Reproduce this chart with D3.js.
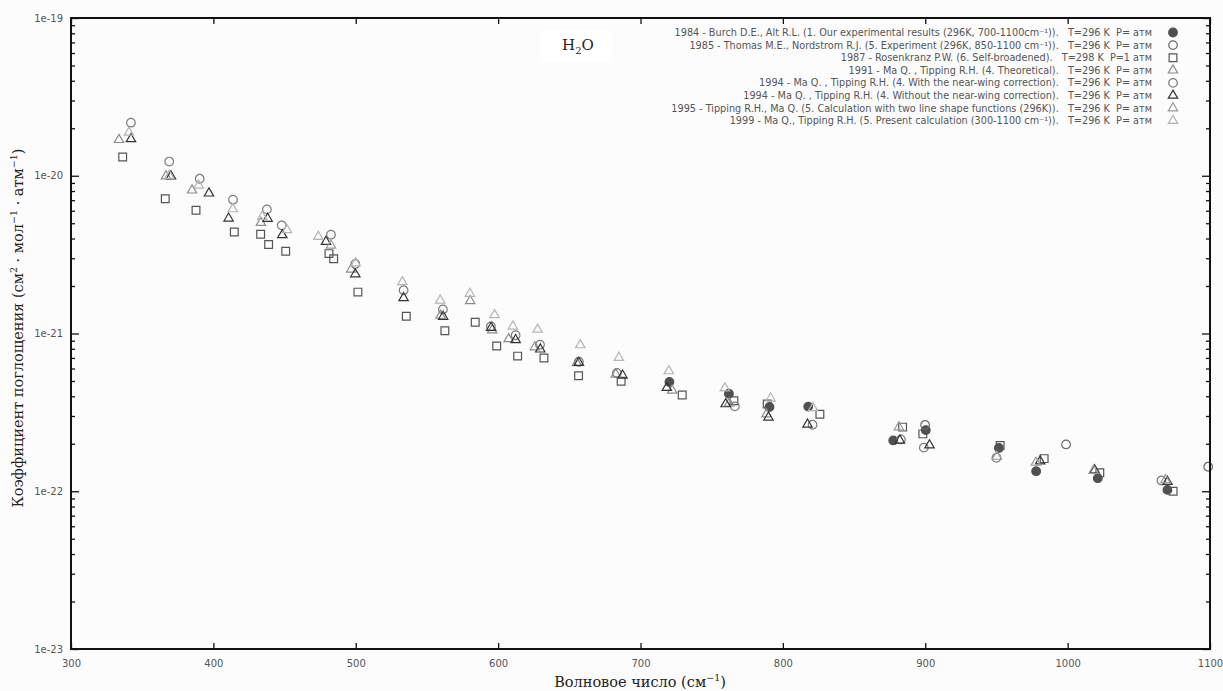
<!DOCTYPE html>
<html>
<head>
<meta charset="utf-8">
<script src="https://cdn.jsdelivr.net/npm/d3@7"></script>
<style>
  body{margin:0;background:#fcfcfc;}
  svg{display:block;}
  .tick-label{font-family:"DejaVu Sans",sans-serif;font-size:10px;fill:#555;}
  .legend-text{font-family:"DejaVu Sans",sans-serif;font-size:9.7px;fill:#555;white-space:pre;}
  .axis-title{font-family:"DejaVu Serif",serif;font-size:14.5px;fill:#222;}
</style>
</head>
<body>
<div id="chart"></div>
<script>
// wavenumber (cm^-1) and absorption coefficient values
const burchX=[720.3,762.1,790.6,817.8,877.5,900.4,951.7,977.9,1021.2,1070.1];
const burchY=[4.93e-22,4.15e-22,3.42e-22,3.44e-22,2.10e-22,2.44e-22,1.88e-22,1.34e-22,1.21e-22,1.02e-22];

const thomasX=[899.9,998.9,1098.7];
const thomasY=[2.63e-22,1.98e-22,1.43e-22];

const rosenX=[336.3,366.2,387.8,414.7,433.2,438.8,450.8,481.2,484.5,501.5,535.5,562.6,583.9,599.0,613.7,632.2,656.5,686.4,729.3,765.6,789.0,826.0,884.1,898.3,952.6,983.5,1022.6,1074.1];
const rosenY=[1.315e-20,7.14e-21,6.04e-21,4.40e-21,4.26e-21,3.67e-21,3.32e-21,3.21e-21,2.98e-21,1.83e-21,1.285e-21,1.04e-21,1.18e-21,8.34e-22,7.19e-22,7.00e-22,5.40e-22,4.98e-22,4.07e-22,3.75e-22,3.57e-22,3.08e-22,2.55e-22,2.31e-22,1.95e-22,1.61e-22,1.31e-22,1.00e-22];

const ma91X=[333.7,366.7,385.0,433.4,496.8,559.6,580.4,595.8,607.4,625.8,655.3,682.7,722.3,762.3,788.5];
const ma91Y=[1.69e-20,9.93e-21,8.09e-21,5.04e-21,2.55e-21,1.30e-21,1.61e-21,1.05e-21,9.23e-22,8.20e-22,6.50e-22,5.51e-22,4.36e-22,3.61e-22,3.08e-22];

const nearX=[342.1,369.0,390.4,413.8,437.6,448.0,482.6,499.7,533.6,561.2,594.9,612.3,629.4,656.7,683.4,766.3,820.9,882.9,899.0,950.0,1065.9];
const nearY=[2.17e-20,1.23e-20,9.57e-21,7.05e-21,6.12e-21,4.85e-21,4.23e-21,2.76e-21,1.88e-21,1.42e-21,1.11e-21,9.75e-22,8.49e-22,6.62e-22,5.62e-22,3.45e-22,2.64e-22,2.13e-22,1.89e-22,1.63e-22,1.17e-22];

const withoutX=[342.1,370.2,396.9,410.7,438.1,448.4,479.1,499.7,533.6,561.4,595.1,612.3,629.6,656.7,687.4,718.5,759.8,789.9,817.3,882.2,903.0,980.7,1019.0,1070.1];
const withoutY=[1.71e-20,9.93e-21,7.74e-21,5.37e-21,5.35e-21,4.21e-21,3.82e-21,2.38e-21,1.68e-21,1.28e-21,1.09e-21,9.10e-22,7.94e-22,6.53e-22,5.43e-22,4.53e-22,3.57e-22,2.94e-22,2.65e-22,2.10e-22,1.96e-22,1.55e-22,1.36e-22,1.15e-22];

const tip95X=[482.6,881.5,950.3,977.7,1018.2,1068.7];
const tip95Y=[3.62e-21,2.55e-22,1.66e-22,1.52e-22,1.35e-22,1.18e-22];

const ma99X=[340.7,369.0,389.7,413.6,434.3,451.7,473.7,499.9,532.7,559.3,580.2,597.5,610.4,627.7,657.7,684.8,719.9,759.3,791.4,821.1];
const ma99Y=[1.88e-20,1.0e-20,8.69e-21,6.15e-21,5.50e-21,4.53e-21,4.11e-21,2.79e-21,2.12e-21,1.62e-21,1.79e-21,1.31e-21,1.11e-21,1.06e-21,8.45e-22,7.03e-22,5.78e-22,4.50e-22,3.88e-22,3.37e-22];

const seriesNames=[
  "1984 - Burch D.E., Alt R.L. (1. Our experimental results (296K, 700-1100cm\u207B\u00B9)).   T=296 K  P= атм",
  "1985 - Thomas M.E., Nordstrom R.J. (5. Experiment (296K, 850-1100 cm\u207B\u00B9)).   T=296 K  P= атм",
  "1987 - Rosenkranz P.W. (6. Self-broadened).   T=298 K  P=1 атм",
  "1991 - Ma Q. , Tipping R.H. (4. Theoretical).   T=296 K  P= атм",
  "1994 - Ma Q. , Tipping R.H. (4. With the near-wing correction).   T=296 K  P= атм",
  "1994 - Ma Q. , Tipping R.H. (4. Without the near-wing correction).   T=296 K  P= атм",
  "1995 - Tipping R.H., Ma Q. (5. Calculation with two line shape functions (296K)).   T=296 K  P= атм",
  "1999 - Ma Q., Tipping R.H. (5. Present calculation (300-1100 cm\u207B\u00B9)).   T=296 K  P= атм"
];

const xTicks=[300,400,500,600,700,800,900,1000,1100];
const yTicks=[1e-23,1e-22,1e-21,1e-20,1e-19];
const yTickLabels=["1e-23","1e-22","1e-21","1e-20","1e-19"];

const w=1223, h=691;
const padL=71, padR=1210, padT=18, padB=649;

const series=[
  {xs:burchX, ys:burchY, shape:"circle", fill:"#505050", stroke:"#505050"},
  {xs:thomasX, ys:thomasY, shape:"circle", fill:"none", stroke:"#6a6a6a"},
  {xs:rosenX, ys:rosenY, shape:"square", fill:"none", stroke:"#555"},
  {xs:ma91X, ys:ma91Y, shape:"triangle", fill:"none", stroke:"#8c8c8c"},
  {xs:nearX, ys:nearY, shape:"circle", fill:"none", stroke:"#7c7c7c"},
  {xs:withoutX, ys:withoutY, shape:"triangle", fill:"none", stroke:"#333"},
  {xs:tip95X, ys:tip95Y, shape:"triangle", fill:"none", stroke:"#999"},
  {xs:ma99X, ys:ma99Y, shape:"triangle", fill:"none", stroke:"#b4b4b4"}
];

const xScale=d3.scaleLinear().domain([300,1100]).range([padL,padR]);
const yScale=d3.scaleLog().domain([1e-23,1e-19]).range([padB,padT]);

const svg=d3.select("#chart").append("svg").attr("width",w).attr("height",h);
svg.append("rect").attr("width",w).attr("height",h).attr("fill","#fcfcfc");

const symbols={
  circle:d3.symbol().type(d3.symbolCircle).size(58),
  square:d3.symbol().type(d3.symbolSquare).size(60),
  triangle:d3.symbol().type(d3.symbolTriangle).size(38)
};

// H2O label box
const titleG=svg.append("g");
titleG.append("rect").attr("x",540).attr("y",30).attr("width",72).attr("height",32).attr("fill","#fff");
const tt=titleG.append("text").attr("class","axis-title").attr("x",578).attr("y",50).attr("text-anchor","middle").style("font-size","15px");
tt.append("tspan").text("H");
tt.append("tspan").text("2").attr("dy",4).style("font-size","10px");
tt.append("tspan").text("O").attr("dy",-4);

// points
series.forEach(s=>{
  svg.append("g").selectAll("path")
    .data(s.xs.map((x,i)=>[x,s.ys[i]]))
    .enter()
    .append("path")
    .attr("d",symbols[s.shape])
    .attr("transform",d=>`translate(${xScale(d[0])},${yScale(d[1])})`)
    .attr("fill",s.fill)
    .attr("stroke",s.stroke)
    .attr("stroke-width",1.2);
});

// axes with inward ticks, mirrored
const axisG=svg.append("g");
const xAxisB=d3.axisBottom(xScale).tickValues(xTicks).tickSize(-6).tickFormat(d3.format("d")).tickPadding(11);
axisG.append("g").attr("transform",`translate(0,${padB})`).call(xAxisB);
const xAxisT=d3.axisTop(xScale).tickValues(xTicks).tickSize(-6).tickFormat("");
axisG.append("g").attr("transform",`translate(0,${padT})`).call(xAxisT);

const minors=[];
for(let e=-23;e<-19;e++){for(let m=2;m<=9;m++){minors.push(m*Math.pow(10,e));}}
const yAxisL=d3.axisLeft(yScale).tickValues(yTicks).tickSize(-8).tickPadding(8).tickFormat((d,i)=>yTickLabels[i]);
axisG.append("g").attr("transform",`translate(${padL},0)`).call(yAxisL);
axisG.append("g").attr("transform",`translate(${padL},0)`).call(d3.axisLeft(yScale).tickValues(minors).tickSize(-4).tickFormat(""));
axisG.append("g").attr("transform",`translate(${padR},0)`).call(d3.axisRight(yScale).tickValues(yTicks).tickSize(-8).tickFormat(""));
axisG.append("g").attr("transform",`translate(${padR},0)`).call(d3.axisRight(yScale).tickValues(minors).tickSize(-4).tickFormat(""));

axisG.selectAll(".domain").remove();
axisG.selectAll(".tick line").attr("stroke","#111").attr("stroke-width",1.3);
axisG.selectAll(".tick text").attr("class","tick-label").attr("fill",null);
svg.append("rect").attr("x",padL).attr("y",padT).attr("width",padR-padL).attr("height",padB-padT)
   .attr("fill","none").attr("stroke","#111").attr("stroke-width",2);

// legend
const legend=svg.append("g");
seriesNames.forEach((name,i)=>{
  const y=32.5+i*12.6;
  legend.append("text").attr("class","legend-text").attr("x",1152).attr("y",y+3.5)
    .attr("text-anchor","end").attr("xml:space","preserve").text(name);
  const s=series[i];
  legend.append("path").attr("d",symbols[s.shape]).attr("transform",`translate(1173,${y})`)
    .attr("fill",s.fill).attr("stroke",s.stroke).attr("stroke-width",1.2);
});

// axis titles
const xt=svg.append("text").attr("class","axis-title").attr("x",640).attr("y",687).attr("text-anchor","middle");
xt.append("tspan").text("Волновое число (см");
xt.append("tspan").text("−1").attr("dy",-6).style("font-size","9.5px");
xt.append("tspan").text(")").attr("dy",6);

const yt=svg.append("text").attr("class","axis-title").attr("transform","translate(23,328) rotate(-90)").attr("text-anchor","middle");
yt.append("tspan").text("Коэффициент поглощения (см");
yt.append("tspan").text("2").attr("dy",-6).style("font-size","9.5px");
yt.append("tspan").text(" · мол").attr("dy",6);
yt.append("tspan").text("−1").attr("dy",-6).style("font-size","9.5px");
yt.append("tspan").text(" · атм").attr("dy",6);
yt.append("tspan").text("−1").attr("dy",-6).style("font-size","9.5px");
yt.append("tspan").text(")").attr("dy",6);
</script>
</body>
</html>
